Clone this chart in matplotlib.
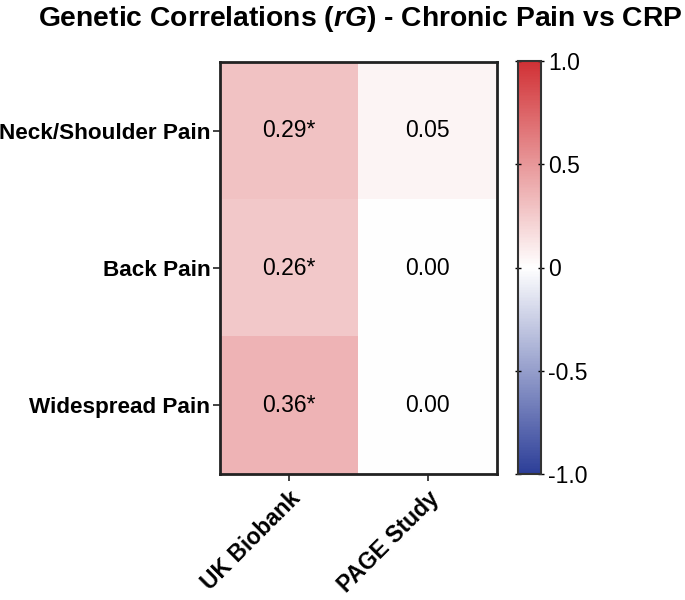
import matplotlib
matplotlib.use("Agg")
import matplotlib.pyplot as plt
import numpy as np
from matplotlib.colors import LinearSegmentedColormap, Normalize
import matplotlib.cm as cm

plt.rcParams['font.family'] = ['Liberation Sans', 'DejaVu Sans']
plt.rcParams['mathtext.fontset'] = 'custom'
plt.rcParams['mathtext.it'] = 'Liberation Sans:italic:bold'
plt.rcParams['mathtext.rm'] = 'Liberation Sans:bold'
plt.rcParams['mathtext.bf'] = 'Liberation Sans:bold'

traits = ["Neck/Shoulder Pain", "Back Pain", "Widespread Pain"]
studies = ["UK Biobank", "PAGE Study"]
rg_values = [[0.29, 0.05],
             [0.26, 0.00],
             [0.36, 0.00]]
significant = [[True, False],
               [True, False],
               [True, False]]
cbar_ticks = [-1.0, -0.5, 0, 0.5, 1.0]
cbar_ticklabels = ["-1.0", "-0.5", "0", "0.5", "1.0"]

cmap = LinearSegmentedColormap.from_list("bwr_custom", ["#2c3e98", "#ffffff", "#d13135"])
norm = Normalize(vmin=-1, vmax=1)

fig = plt.figure(figsize=(6.85, 6.0), dpi=100)
ax = fig.add_axes([220/685, 1-474/600, (497-220)/685, (474-62)/600])
cax = fig.add_axes([518/685, 1-474/600, (541-518)/685, (474-61)/600])

data = np.array(rg_values)
ax.imshow(data, cmap=cmap, norm=norm, aspect='auto',
          extent=(-0.5, len(studies)-0.5, len(traits)-0.5, -0.5), interpolation='nearest')

for i in range(len(traits)):
    for j in range(len(studies)):
        txt = f"{rg_values[i][j]:.2f}" + ("*" if significant[i][j] else "")
        ax.text(j, i, txt, ha='center', va='center', fontsize=16.5, color='black')

ax.set_xticks(range(len(studies)))
ax.set_xticklabels(studies, rotation=45, ha='right', rotation_mode='anchor',
                   fontsize=16.5, fontweight='bold')
ax.set_yticks(range(len(traits)))
ax.set_yticklabels(traits, fontsize=16.2, fontweight='bold')
ax.tick_params(axis='both', length=5, width=1.2, color='#222222', pad=2)
ax.tick_params(axis='x', pad=4)
for s in ax.spines.values():
    s.set_linewidth(2)
    s.set_color('#222222')

cb = fig.colorbar(cm.ScalarMappable(norm=norm, cmap=cmap), cax=cax)
cb.set_ticks(cbar_ticks)
cb.set_ticklabels(cbar_ticklabels)
cb.ax.tick_params(labelsize=16.5, length=4, width=1, direction='inout', left=True, pad=3)
cb.outline.set_linewidth(1.5)
cb.outline.set_edgecolor('#333333')

fig.text(360/685, 1-19/600, r"Genetic Correlations ($\mathit{rG}$) - Chronic Pain vs CRP",
         ha='center', va='center', fontsize=20.3, fontweight='bold')

fig.savefig("out.png", dpi=100)
